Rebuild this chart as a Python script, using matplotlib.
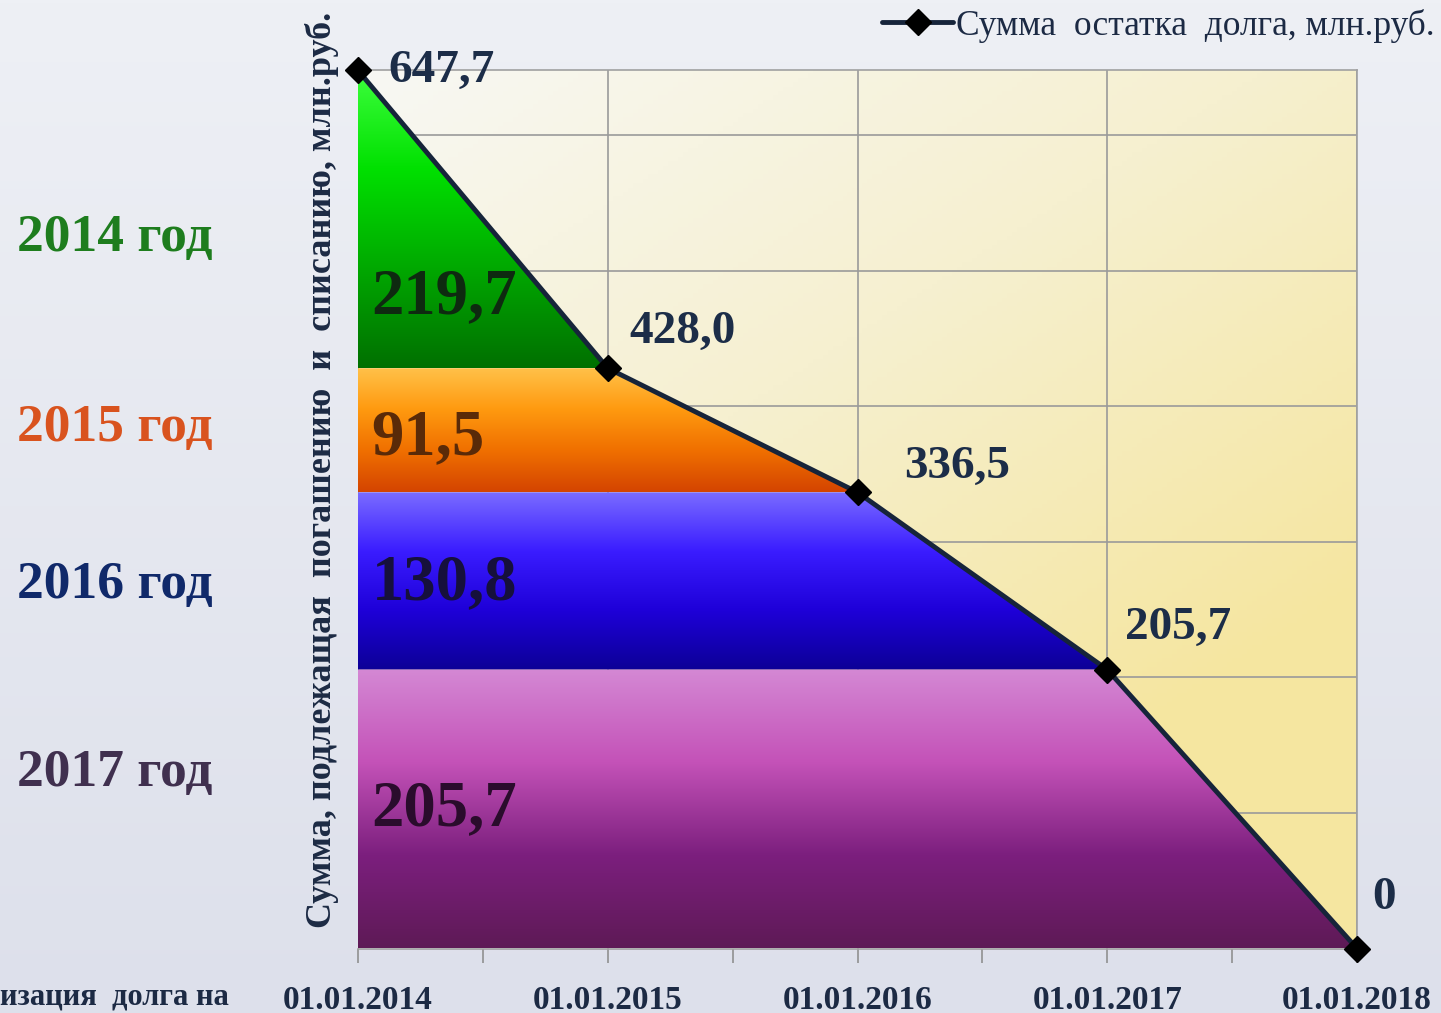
import numpy as np
import matplotlib.pyplot as plt
from matplotlib.colors import LinearSegmentedColormap

plt.rcParams['font.family'] = ['Liberation Serif', 'DejaVu Serif']

# Data
dates = ['01.01.2014', '01.01.2015', '01.01.2016', '01.01.2017', '01.01.2018']
remain = [647.7, 428.0, 336.5, 205.7, 0.0]
remain_labels = ['647,7', '428,0', '336,5', '205,7', '0']
years = ['2014 год', '2015 год', '2016 год', '2017 год']
paid = ['219,7', '91,5', '130,8', '205,7']

year_colors = ['#1e7d1e', '#d9531e', '#10296a', '#40304f']
band_grads = [
    ['#3dff3d', '#00e000', '#00a800', '#007000'],
    ['#ffc24a', '#ff9a10', '#f07000', '#d44400'],
    ['#7a6cff', '#3a1cff', '#1e00d8', '#0c0096'],
    ['#d488d4', '#c452b8', '#7c1f7e', '#5e1a56'],
]
paid_colors = ['#0e2a10', '#5a2a08', '#16103c', '#2a0c2c']
# label offsets in pixels from the point
lab_off = [(30, 0), (22, 36), (47, 25), (18, 42), (15, 51)]
paid_frac = [0.24, 0.44, 0.49, 0.50]

fig = plt.figure(figsize=(14.41, 10.13), dpi=100)

# figure background gradient
bg = fig.add_axes([0, 0, 1, 1], zorder=-10)
bg.imshow(np.linspace(0, 1, 256).reshape(-1, 1), aspect='auto', extent=(0, 1, 0, 1),
          cmap=LinearSegmentedColormap.from_list('bg', ['#eef0f5', '#dde0eb']))
bg.set_axis_off()

ax = fig.add_axes([358 / 1441, 1 - 948.5 / 1013, 999 / 1441, 878.5 / 1013])
x = np.arange(len(dates))
y = np.array(remain)
ax.set_xlim(0, len(dates) - 1)
ax.set_ylim(0, 648)

# plot area background (light yellow gradient)
gx, gy = np.meshgrid(np.linspace(0, 1, 200), np.linspace(0, 1, 200))
gval = np.clip(0.55 * gx + 0.75 * gy, 0, 1)
ycmap = LinearSegmentedColormap.from_list('yel', ['#f8f8f4', '#f6f0d0', '#f5e6a0'])
ax.imshow(gval, origin='upper', aspect='auto', extent=(0, 4, 0, 648), cmap=ycmap, zorder=0)

# grid
for v in range(100, 700, 100):
    ax.axhline(v, color='#9a9a9a', lw=1.2, zorder=0.5)
for v in x:
    ax.axvline(v, color='#9a9a9a', lw=1.2, zorder=0.5)

# coloured bands under the line
for i in range(len(years)):
    hi, lo = remain[i], remain[i + 1]
    poly = ax.fill_between(x, lo, np.clip(y, lo, hi), color='none', lw=0, zorder=1)
    cm = LinearSegmentedColormap.from_list('b%d' % i, band_grads[i])
    im = ax.imshow(np.linspace(0, 1, 256).reshape(-1, 1), origin='upper', aspect='auto',
                   extent=(0, 4, lo, hi), cmap=cm, zorder=1)
    im.set_clip_path(poly.get_paths()[0], transform=ax.transData)
    ax.text(0.055, lo + paid_frac[i] * (hi - lo), paid[i], fontsize=46.5, fontweight='bold',
            color=paid_colors[i], ha='left', va='center', zorder=3)

# year labels on the left
for lab, col, ypx in zip(years, year_colors, [238, 428, 585, 773]):
    fig.text(17 / 1441, 1 - ypx / 1013, lab, fontsize=38.5, fontweight='bold', color=col,
             ha='left', va='center')

# main line
ax.plot(x, y, color='#16243a', lw=3.5, marker='D', ms=13, mfc='black', mec='black',
        zorder=5, clip_on=False, solid_capstyle='round', label='Сумма  остатка  долга, млн.руб.')
for xi, yi, s, (dx, dy) in zip(x, y, remain_labels, lab_off):
    ax.annotate(s, (xi, yi), xytext=(dx * 0.72, dy * 0.72), textcoords='offset points',
                fontsize=34, fontweight='bold', color='#1c2d48', ha='left', va='center',
                zorder=6, annotation_clip=False)

# axes styling
for side in ['top', 'right', 'bottom']:
    ax.spines[side].set_color('#a0a0a0')
    ax.spines[side].set_linewidth(1.2)
ax.spines['left'].set_visible(False)
ax.set_yticks([])
ax.set_xticks(x)
ax.set_xticklabels(dates, fontsize=24, fontweight='bold', color='#1c2a44')
ax.set_xticks(x[:-1] + 0.5, minor=True)
ax.tick_params(axis='x', which='both', length=10, width=1.2, color='#909090', pad=16)

fig.text(322 / 1441, 1 - 470 / 1013, 'Сумма, подлежащая  погашению  и  списанию, млн.руб.',
         rotation=90, fontsize=26, fontweight='bold', color='#1c2a44', ha='center', va='center')
fig.text(0, 1 - 997 / 1013, 'изация  долга на', fontsize=22, fontweight='bold',
         color='#1c2a44', ha='left', va='center')

fig.legend(loc='upper right', bbox_to_anchor=(1467 / 1441, 1 + 23 / 1013), frameon=False,
           fontsize=25.5, handlelength=2.0, handletextpad=0.1, labelcolor='#1c2a44')

plt.savefig('out.png', dpi=100)
